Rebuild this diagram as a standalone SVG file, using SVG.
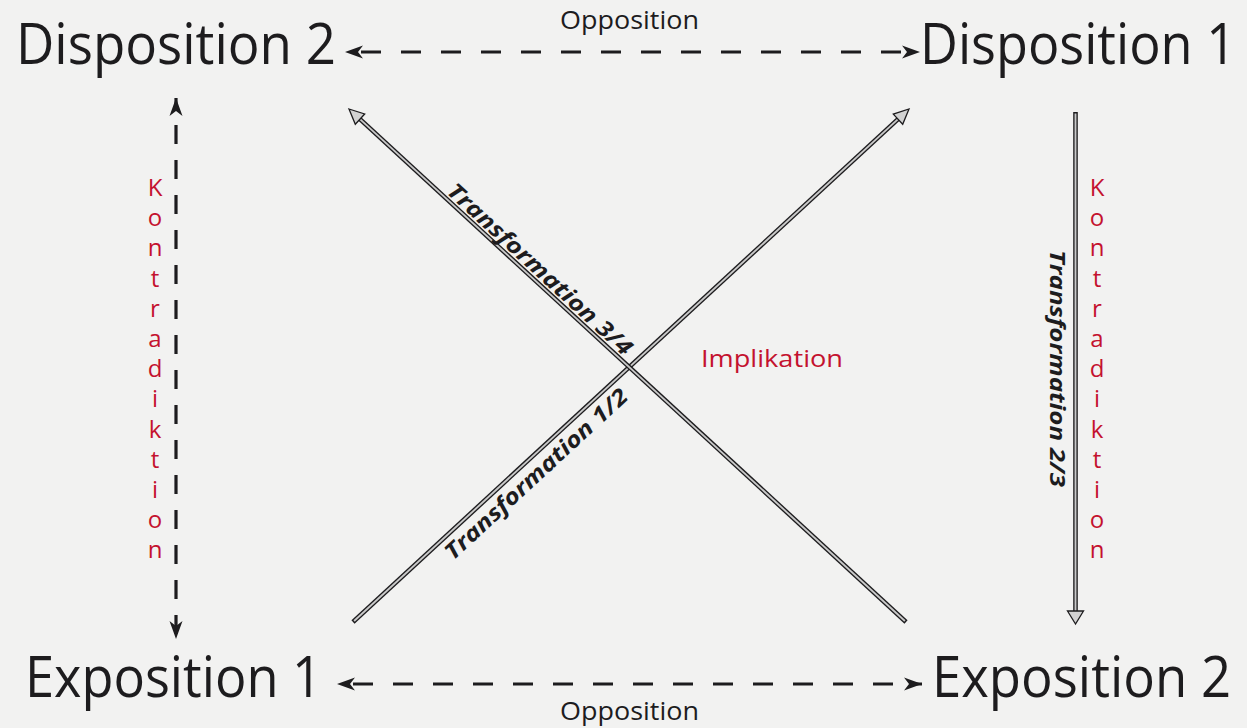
<svg xmlns="http://www.w3.org/2000/svg" width="1247" height="728" viewBox="0 0 1247 728">
<style>
.big{font-family:"Open Sans","Liberation Sans",sans-serif;font-size:56px;fill:#1d1c1e}
.lbl{font-family:"Open Sans","Liberation Sans",sans-serif;font-size:25px;fill:#1d1c1e}
.red{font-family:"Open Sans","Liberation Sans",sans-serif;font-size:24px;fill:#c4122f}
.tr{font-family:"Open Sans","Liberation Sans",sans-serif;font-size:22px;font-weight:bold;font-style:italic;fill:#1d1c1e}
.dash{fill:none;stroke:#1d1c1e;stroke-width:3.2}
.outer{fill:none;stroke:#1d1c1e;stroke-width:4.6}
.inner{fill:none;stroke:#c9c9c9;stroke-width:1.9}
.head{fill:#d2d2d2;stroke:#1d1c1e;stroke-width:1.3;stroke-linejoin:miter}
</style>
<defs>
<marker id="stealth" viewBox="-20 -8 22 16" refX="0" refY="0" markerWidth="22" markerHeight="16" markerUnits="userSpaceOnUse" orient="auto-start-reverse">
<path d="M0,0 L-18,-6.5 L-13,0 L-18,6.5 Z" fill="#1d1c1e"/>
</marker>
</defs>
<rect width="1247" height="728" fill="#f2f2f1"/>

<g id="connectors">
<path class="dash" d="M345,52 H920" stroke-dasharray="20 20" stroke-dashoffset="24" marker-start="url(#stealth)" marker-end="url(#stealth)"/>
<path class="dash" d="M337,684 H922" stroke-dasharray="20 20" stroke-dashoffset="24" marker-start="url(#stealth)" marker-end="url(#stealth)"/>
<path class="dash" d="M176,98 V639" stroke-dasharray="19 16" stroke-dashoffset="8" marker-start="url(#stealth)" marker-end="url(#stealth)"/>

<g id="arrow-t12">
<path class="outer" d="M353,622 L900.2,117.1"/>
<path class="inner" d="M354.1,621 L900.2,117.1"/>
<polygon class="head" points="909,109 902.7,124.3 893.3,114.1"/>
</g>
<g id="arrow-t34">
<path class="outer" d="M906,622 L357.8,117.1"/>
<path class="inner" d="M904.9,621 L357.8,117.1"/>
<polygon class="head" points="349,109 364.7,114 355.3,124.3"/>
</g>
<g id="arrow-t23">
<path class="outer" d="M1075.5,112 V613"/>
<path class="inner" d="M1075.5,113.6 V613"/>
<polygon class="head" points="1075.5,624 1067.5,611 1083.5,611"/>
</g>
</g>

<g id="disposition2"><text class="big" x="16" y="64" textLength="320" lengthAdjust="spacingAndGlyphs">Disposition 2</text></g>
<g id="disposition1"><text class="big" x="1236" y="64" text-anchor="end" textLength="316" lengthAdjust="spacingAndGlyphs">Disposition 1</text></g>
<g id="exposition1"><text class="big" x="25" y="697" textLength="297" lengthAdjust="spacingAndGlyphs">Exposition 1</text></g>
<g id="exposition2"><text class="big" x="1231" y="697" text-anchor="end" textLength="299" lengthAdjust="spacingAndGlyphs">Exposition 2</text></g>

<g id="labels">
<text class="lbl" x="560" y="29" textLength="139" lengthAdjust="spacingAndGlyphs">Opposition</text>
<text class="lbl" x="560" y="720" textLength="139" lengthAdjust="spacingAndGlyphs">Opposition</text>
<text class="red" x="701" y="367" font-size="25" textLength="142" lengthAdjust="spacingAndGlyphs">Implikation</text>
<text class="red" text-anchor="middle"><tspan x="155" y="196">K</tspan><tspan x="155" y="226">o</tspan><tspan x="155" y="256">n</tspan><tspan x="155" y="287">t</tspan><tspan x="155" y="317">r</tspan><tspan x="155" y="347">a</tspan><tspan x="155" y="377">d</tspan><tspan x="155" y="407">i</tspan><tspan x="155" y="438">k</tspan><tspan x="155" y="468">t</tspan><tspan x="155" y="498">i</tspan><tspan x="155" y="528">o</tspan><tspan x="155" y="558">n</tspan></text>
<text class="red" text-anchor="middle"><tspan x="1097" y="196">K</tspan><tspan x="1097" y="226">o</tspan><tspan x="1097" y="256">n</tspan><tspan x="1097" y="287">t</tspan><tspan x="1097" y="317">r</tspan><tspan x="1097" y="347">a</tspan><tspan x="1097" y="377">d</tspan><tspan x="1097" y="407">i</tspan><tspan x="1097" y="438">k</tspan><tspan x="1097" y="468">t</tspan><tspan x="1097" y="498">i</tspan><tspan x="1097" y="528">o</tspan><tspan x="1097" y="558">n</tspan></text>
<text class="tr" transform="translate(445.8,192.8) rotate(42.64)" x="0" y="0" textLength="242" lengthAdjust="spacingAndGlyphs">Transformation 3/4</text>
<text class="tr" transform="translate(453.1,560.9) rotate(-42.7)" x="0" y="0" textLength="240" lengthAdjust="spacingAndGlyphs">Transformation 1/2</text>
<text class="tr" transform="translate(1050,250) rotate(90)" x="0" y="0" textLength="237" lengthAdjust="spacingAndGlyphs">Transformation 2/3</text>
</g>
</svg>
